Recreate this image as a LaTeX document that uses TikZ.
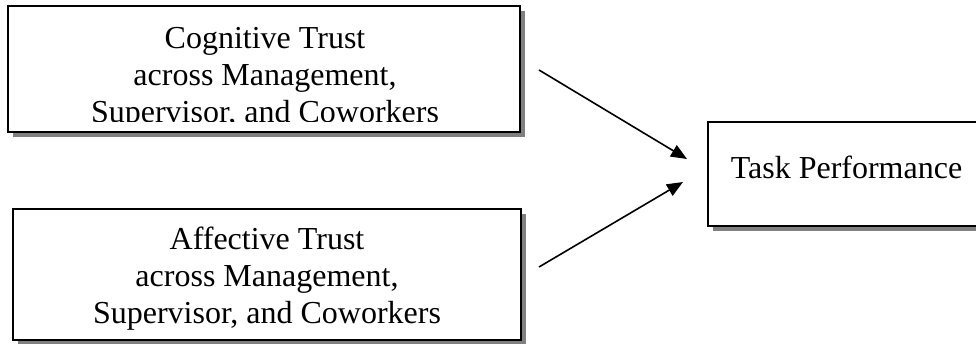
\documentclass[tikz,border=0pt]{standalone}
\usepackage{fontspec}
\setmainfont{Liberation Serif}
\usetikzlibrary{shadows,arrows.meta}

\begin{document}
\begin{tikzpicture}[x=1pt,y=-1pt,
  boite/.style={draw, line width=1.6pt, fill=white, inner sep=0pt,
    drop shadow={shadow xshift=5pt,shadow yshift=-5pt,fill=black!50,opacity=1}},
  texte/.style={align=center, inner sep=0pt, font=\fontsize{32}{37}\selectfont},
  fleche/.style={line width=1.6pt, -{Triangle[length=16pt,width=13pt]}}]

\useasboundingbox (0,0) rectangle (976,343);

% Cadre haut
\node[boite, minimum width=512pt, minimum height=126pt] (cog) at (264,69) {};
\begin{scope}
\clip (8,6) rectangle (520,121);
\node[texte] (cogtxt) at (265,78.5) {Cognitive Trust\\across Management,\\Supervisor, and Coworkers};
\end{scope}

% Cadre bas
\node[boite, texte, minimum width=508pt, minimum height=131pt] (aff) at (267,274.5) {};
\node[texte] (afftxt) at (267,278.5) {Affective Trust\\across Management,\\Supervisor, and Coworkers};

% Cadre droite
\node[boite, texte, minimum width=277pt, minimum height=104pt,
  text height=22pt, text depth=14pt] (task) at (846.5,174) {Task Performance};

% Fleches
\coordinate (d1) at (539,70);
\coordinate (f1) at (687,159);
\coordinate (d2) at (539,267);
\coordinate (f2) at (683,182);
\draw[fleche] (d1) -- (f1);
\draw[fleche] (d2) -- (f2);

\end{tikzpicture}
\end{document}
